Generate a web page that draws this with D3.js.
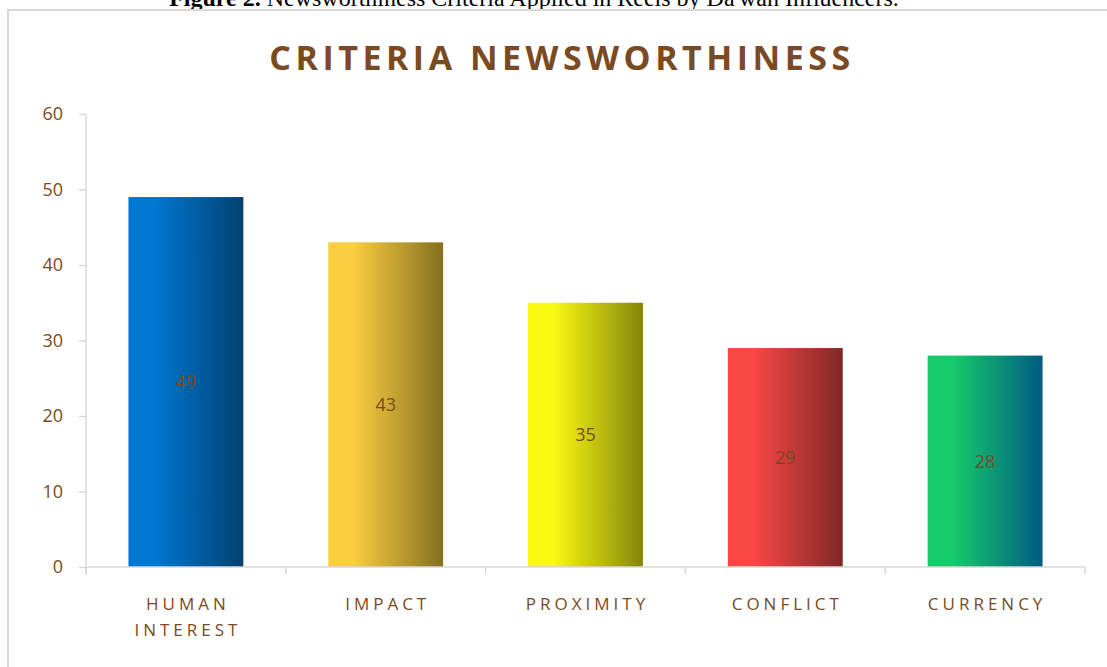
<!DOCTYPE html>
<html>
<head>
<meta charset="utf-8">
<script src="https://cdn.jsdelivr.net/npm/d3@7"></script>
<style>
  body { margin:0; background:#fff; }
  svg { display:block; }
</style>
</head>
<body>
<div id="chart"></div>
<script>
// data
var categories = ["HUMAN INTEREST", "IMPACT", "PROXIMITY", "CONFLICT", "CURRENCY"];
var values = [49, 43, 35, 29, 28];
var yTicks = [0, 10, 20, 30, 40, 50, 60];
// gradient stops per bar (left colour, right colour)
var barColors = [
  ["#0078d2", "#00416f"],
  ["#fbcd40", "#83701f"],
  ["#f9f912", "#85850a"],
  ["#fb4646", "#7f2828"],
  ["#16ca6a", "#005b82"]
];

var W = 1107, H = 667;
var brown = "#7a4a22";

var svg = d3.select("#chart").append("svg")
  .attr("width", W)
  .attr("height", H);

// caption from the document (cut at the top, like the scan)
svg.append("text")
  .attr("x", 534)
  .attr("y", 6)
  .attr("text-anchor", "middle")
  .style("font-family", "'Liberation Serif', serif")
  .style("font-size", "24px")
  .style("fill", "#000")
  .html("<tspan font-weight='bold'>Figure 2.</tspan> Newsworthiness Criteria Applied in Reels by Da'wah Influencers.");

// chart frame
svg.append("rect")
  .attr("x", 8).attr("y", 10)
  .attr("width", 1115).attr("height", 680)
  .attr("fill", "none")
  .attr("stroke", "#d9d9d9")
  .attr("stroke-width", 2);

// title
svg.append("text")
  .attr("x", 562)
  .attr("y", 70)
  .attr("text-anchor", "middle")
  .style("font-family", "'Open Sans', sans-serif")
  .style("font-weight", "bold")
  .style("font-size", "34px")
  .style("letter-spacing", "4.5px")
  .style("fill", brown)
  .text("CRITERIA NEWSWORTHINESS");

var xScale = d3.scaleBand()
  .domain(categories)
  .range([86, 1085])
  .paddingInner(0.425)
  .paddingOuter(0.2125);

var yScale = d3.scaleLinear()
  .domain([0, 60])
  .range([567, 114]);

// gradients
var defs = svg.append("defs");
barColors.forEach(function(c, i){
  var g = defs.append("linearGradient")
    .attr("id", "grad" + i)
    .attr("x1", "0%").attr("x2", "100%")
    .attr("y1", "0%").attr("y2", "0%");
  g.append("stop").attr("offset", "0%").attr("stop-color", c[0]);
  g.append("stop").attr("offset", "22%").attr("stop-color", c[0]);
  g.append("stop").attr("offset", "100%").attr("stop-color", c[1]);
});

// y axis
var yAxis = svg.append("g")
  .attr("transform", "translate(86,0)")
  .call(d3.axisLeft(yScale).tickValues(yTicks).tickSize(7).tickPadding(16));
yAxis.select(".domain").attr("stroke", "#d9d9d9").attr("stroke-width", 1.5)
  .attr("d", "M0,114V575");
yAxis.selectAll(".tick line").attr("stroke", "#d9d9d9").attr("stroke-width", 1.5);
yAxis.selectAll(".tick text")
  .style("font-family", "'Open Sans', sans-serif")
  .style("font-size", "18px")
  .style("fill", brown);

// bars
svg.selectAll(".bar")
  .data(values)
  .enter().append("rect")
  .attr("class", "bar")
  .attr("x", function(d, i){ return xScale(categories[i]); })
  .attr("y", function(d){ return yScale(d); })
  .attr("width", xScale.bandwidth())
  .attr("height", function(d){ return yScale(0) - yScale(d); })
  .attr("fill", function(d, i){ return "url(#grad" + i + ")"; });

// value labels
svg.selectAll(".val")
  .data(values)
  .enter().append("text")
  .attr("class", "val")
  .attr("x", function(d, i){ return xScale(categories[i]) + xScale.bandwidth()/2; })
  .attr("y", function(d){ return (yScale(d) + yScale(0))/2; })
  .attr("dy", "0.35em")
  .attr("text-anchor", "middle")
  .style("font-family", "'Open Sans', sans-serif")
  .style("font-size", "18px")
  .style("fill", brown)
  .text(function(d){ return d; });

// x axis line and boundary ticks
var step = xScale.step();
svg.append("line")
  .attr("x1", 86).attr("x2", 1085)
  .attr("y1", 567).attr("y2", 567)
  .attr("stroke", "#d9d9d9").attr("stroke-width", 1.5);
svg.selectAll(".xtick")
  .data(d3.range(categories.length + 1))
  .enter().append("line")
  .attr("x1", function(i){ return 86 + i*step; })
  .attr("x2", function(i){ return 86 + i*step; })
  .attr("y1", 567).attr("y2", 574)
  .attr("stroke", "#d9d9d9").attr("stroke-width", 1.5);

// category labels
var xl = svg.selectAll(".xlab")
  .data(categories)
  .enter().append("text")
  .attr("class", "xlab")
  .attr("x", function(d){ return xScale(d) + xScale.bandwidth()/2; })
  .attr("y", 610)
  .attr("text-anchor", "middle")
  .style("font-family", "'Open Sans', sans-serif")
  .style("font-size", "17px")
  .style("letter-spacing", "4px")
  .style("fill", brown);
xl.each(function(d){
  var words = d.split(" ");
  var t = d3.select(this);
  var x = t.attr("x");
  words.forEach(function(w, j){
    t.append("tspan").attr("x", +x + 2).attr("dy", j ? 26 : 0).text(w);
  });
});
</script>
</body>
</html>
